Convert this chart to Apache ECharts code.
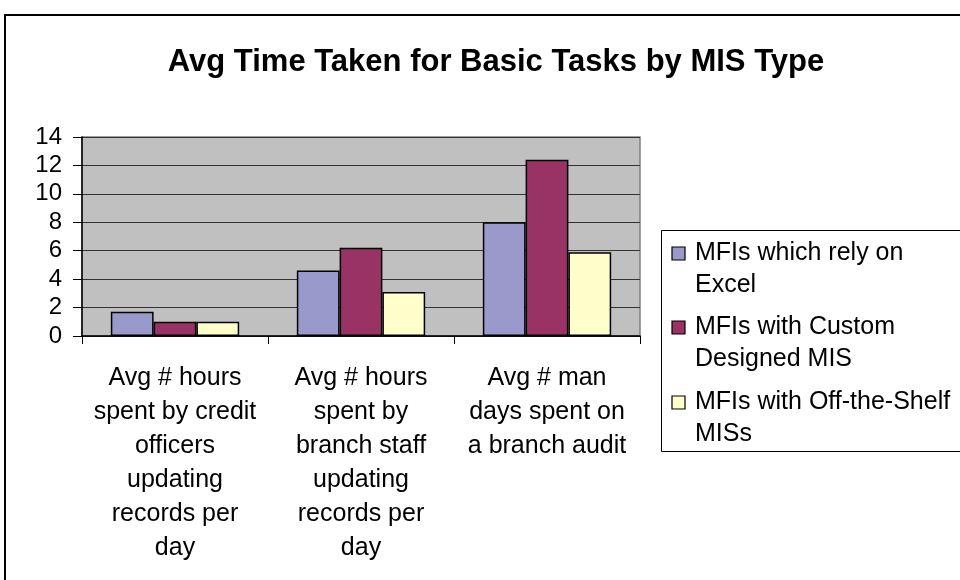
<!DOCTYPE html>
<html>
<head>
<meta charset="utf-8">
<title>Avg Time Taken for Basic Tasks by MIS Type</title>
<script src="https://cdn.jsdelivr.net/npm/echarts@6/dist/echarts.min.js"></script>
<style>
  html, body { margin: 0; padding: 0; background: #fff; }
  #mainChart { width: 960px; height: 580px; }
</style>
</head>
<body>
<div id="mainChart"></div>
<script>
// data
var categories = [
    'Avg # hours\nspent by credit\nofficers\nupdating\nrecords per\nday',
    'Avg # hours\nspent by\nbranch staff\nupdating\nrecords per\nday',
    'Avg # man\ndays spent on\na branch audit'
];
var seriesNames = [
    'MFIs which rely on\nExcel',
    'MFIs with Custom\nDesigned MIS',
    'MFIs with Off-the-Shelf\nMISs'
];
var excelValues = [1.7, 4.6, 8.0];
var customValues = [1.0, 6.2, 12.4];
var offShelfValues = [1.0, 3.1, 5.9];
var seriesColors = ['#9999CC', '#993366', '#FFFFCC'];
var yTicks = [0, 2, 4, 6, 8, 10, 12, 14];

var font = '"Liberation Sans", Arial, sans-serif';
var chartDom = document.getElementById('mainChart');
var myChart = echarts.init(chartDom);

var allValues = [excelValues, customValues, offShelfValues];
var series = allValues.map(function (vals, i) {
    return {
        name: seriesNames[i],
        type: 'bar',
        data: vals,
        barGap: '0%',
        barCategoryGap: '31%',
        itemStyle: { color: seriesColors[i], borderColor: '#000', borderWidth: 1.5 }
    };
});

// legend drawn by hand so the marker sits on the first text line
var legendItems = [
    { type: 'rect', shape: { x: 661.5, y: 230.5, width: 320, height: 221 },
      style: { fill: '#fff', stroke: '#000', lineWidth: 1 } }
];
var legendTops = [237, 311, 386];
seriesNames.forEach(function (name, i) {
    legendItems.push({
        type: 'rect',
        shape: { x: 672, y: legendTops[i] + 10, width: 13, height: 13 },
        style: { fill: seriesColors[i], stroke: '#000', lineWidth: 1.2 }
    });
    legendItems.push({
        type: 'text',
        x: 695, y: legendTops[i],
        style: { text: name, font: '25px ' + font, fill: '#000', lineHeight: 32 }
    });
});

var option = {
    backgroundColor: '#fff',
    animation: false,
    title: {
        text: 'Avg Time Taken for Basic Tasks by MIS Type',
        left: 491,
        top: 42,
        textAlign: 'center',
        textStyle: { fontFamily: font, fontSize: 31, fontWeight: 'bold', color: '#000' }
    },
    grid: {
        left: 82, right: 320, top: 137, bottom: 244,
        show: true, backgroundColor: '#C0C0C0', borderColor: '#808080', borderWidth: 1.5
    },
    xAxis: {
        type: 'category',
        data: categories,
        axisLine: { lineStyle: { color: '#000', width: 1.5 } },
        axisTick: { show: true, length: 8, interval: 0, lineStyle: { color: '#000' } },
        axisLabel: {
            interval: 0, margin: 25, fontFamily: font, fontSize: 25,
            lineHeight: 34, color: '#000', align: 'center'
        }
    },
    yAxis: {
        type: 'value',
        min: yTicks[0],
        max: yTicks[yTicks.length - 1],
        interval: 2,
        axisLine: { show: true, lineStyle: { color: '#000', width: 1.5 } },
        axisTick: { show: true, length: 9, lineStyle: { color: '#000' } },
        axisLabel: { margin: 20, fontFamily: font, fontSize: 24, color: '#000' },
        splitLine: { lineStyle: { color: '#333', width: 1.2 } }
    },
    series: series,
    graphic: [
        { type: 'rect', shape: { x: 5, y: 15, width: 1000, height: 600 },
          style: { fill: null, stroke: '#000', lineWidth: 2 } }
    ].concat(legendItems)
};

myChart.setOption(option);
</script>
</body>
</html>
